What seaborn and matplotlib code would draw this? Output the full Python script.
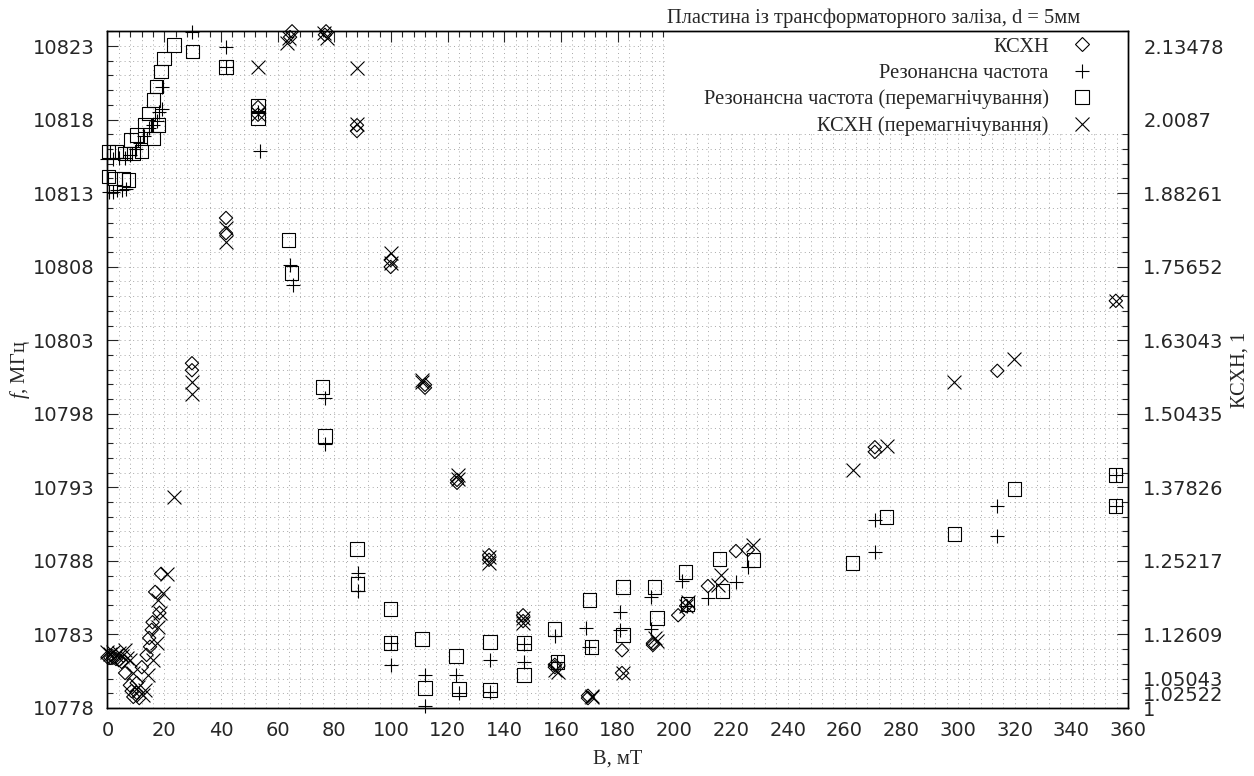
import seaborn as sns
import matplotlib.pyplot as plt
from matplotlib.lines import Line2D
from matplotlib.patches import Rectangle
from matplotlib.ticker import MultipleLocator

# КСХН (diamonds), right axis
ksxn_b = [0.0, 1.0, 2.0, 3.0, 4.0, 5.0, 6.2, 7.9, 8.5, 9.1, 10.3, 10.3, 11.2, 12.1, 13.8, 15.0,
          14.7, 15.6, 15.9, 18.3, 16.8, 18.9,
          29.8, 29.8, 41.8, 41.8, 53.1, 53.1, 65.1, 64.4, 77.1, 76.7, 88.0, 88.0, 99.9, 99.9,
          112.0, 112.0, 123.3, 123.3, 134.6, 134.6, 146.6, 146.6, 157.8, 157.8, 169.5, 169.5,
          181.5, 181.5, 192.4, 192.4, 201.3, 204.1, 211.8, 221.7, 225.9, 270.7, 270.7, 313.9, 355.7]
ksxn = [1.087, 1.086, 1.087, 1.084, 1.082, 1.079, 1.060, 1.039, 1.029, 1.019, 1.026, 1.043, 1.017,
        1.070, 1.091, 1.105, 1.120, 1.134, 1.147, 1.163, 1.199, 1.230,
        1.591, 1.579, 1.840, 1.814, 2.030, 2.017, 2.160, 2.150, 2.160, 2.154, 1.999, 1.989, 1.768,
        1.756, 1.554, 1.549, 1.391, 1.386, 1.262, 1.254, 1.159, 1.149, 1.074, 1.070, 1.021, 1.017,
        1.099, 1.060, 1.111, 1.108, 1.159, 1.175, 1.209, 1.269, 1.271, 1.447, 1.439, 1.578, 1.698]

# Резонансна частота (plus), left axis
freq_b = [0.5, 2.0, 3.5, 5.0, 6.5, 0.0, 2.0, 4.0, 6.0, 8.0, 10.0, 11.5, 13.0, 14.5, 16.0, 17.5,
          18.0, 19.1, 19.1,
          29.8, 41.8, 41.8, 53.1, 53.8, 64.4, 65.3, 76.9, 76.7, 88.3, 88.3, 99.9, 99.9, 112.0,
          112.0, 122.9, 124.0, 134.9, 134.9, 146.9, 146.9, 157.8, 158.7, 168.8, 170.0, 180.8,
          180.8, 191.9, 191.9, 202.5, 204.6, 211.8, 221.7, 225.9, 270.7, 270.7, 313.9, 313.9,
          355.7, 355.7]
freq = [10813.1, 10813.1, 10813.2, 10813.2, 10813.3, 10815.3, 10815.3, 10815.4, 10815.4, 10815.6,
        10816.0, 10816.4, 10816.9, 10817.4, 10817.6, 10817.9, 10818.5, 10818.7, 10820.2,
        10823.96, 10822.94, 10821.58, 10818.52, 10815.87, 10808.12, 10806.76, 10799.08, 10795.95,
        10787.18, 10785.95, 10782.42, 10780.92, 10780.24, 10778.14, 10780.24, 10779.02, 10781.26,
        10779.09, 10782.35, 10781.13, 10782.89, 10781.13, 10783.44, 10782.15, 10784.53, 10783.30,
        10785.55, 10783.37, 10786.63, 10784.93, 10785.48, 10786.57, 10787.59, 10790.78, 10788.60,
        10791.73, 10789.69, 10793.84, 10791.73]

# Резонансна частота (перемагнічування) (squares), left axis
freq_remag_b = [0.3, 2.6, 5.6, 7.3, 0.3, 3.2, 6.2, 9.1, 12.1, 8.3, 10.3, 13.0, 16.2, 17.9, 14.4,
                16.2, 17.4, 18.9, 19.9, 23.5, 29.9,
                41.8, 53.1, 53.1, 63.8, 64.9, 75.9, 76.7, 88.0, 88.3, 99.9, 99.9, 111.0, 112.0,
                122.9, 124.0, 134.9, 134.9, 146.9, 146.9, 157.8, 158.7, 170.0, 170.8, 181.9, 181.9,
                192.9, 193.9, 204.0, 204.6, 215.8, 217.0, 228.0, 262.9, 274.8, 298.7, 319.9,
                355.7, 355.7]
freq_remag = [10814.12, 10814.01, 10813.96, 10813.89, 10815.82, 10815.82, 10815.71, 10815.71,
              10815.82, 10816.61, 10816.95, 10817.63, 10816.73, 10817.63, 10818.43, 10819.33,
              10820.24, 10821.26, 10822.17, 10823.07, 10822.62,
              10821.58, 10818.92, 10818.10, 10809.82, 10807.57, 10799.82, 10796.49, 10788.81,
              10786.43, 10784.73, 10782.42, 10782.69, 10779.36, 10781.54, 10779.29, 10782.49,
              10779.22, 10782.42, 10780.24, 10783.37, 10781.13, 10785.34, 10782.15, 10786.23,
              10782.96, 10786.23, 10784.12, 10787.25, 10785.07, 10788.13, 10785.95, 10788.06,
              10787.86, 10790.98, 10789.83, 10792.89, 10793.84, 10791.73]

# КСХН (перемагнічування) (crosses), right axis
ksxn_remag_b = [0.0, 1.0, 2.0, 3.0, 4.0, 5.0, 6.0, 7.0, 8.0, 9.1, 10.9, 12.6, 13.2, 14.4, 16.2,
                17.4, 17.9, 18.5, 17.9, 19.7, 20.9,
                23.5, 29.8, 29.8, 41.8, 41.8, 53.1, 53.1, 64.0, 63.3, 76.4, 77.4, 88.0, 88.0,
                99.9, 99.9, 110.8, 110.8, 123.7, 123.7, 134.6, 134.6, 146.6, 146.6, 157.8, 159.0,
                170.8, 170.8, 181.8, 193.3, 194.0, 204.7, 204.1, 215.3, 216.4, 227.8, 263.0,
                275.0, 298.7, 319.9, 355.7]
ksxn_remag = [1.096, 1.093, 1.096, 1.091, 1.094, 1.089, 1.099, 1.086, 1.082, 1.060, 1.036, 1.022,
              1.031, 1.057, 1.082, 1.111, 1.139, 1.163, 1.185, 1.197, 1.230,
              1.362, 1.559, 1.538, 1.823, 1.799, 2.099, 2.019, 2.149, 2.140, 2.157, 2.149, 2.097,
              2.001, 1.780, 1.763, 1.562, 1.559, 1.399, 1.393, 1.259, 1.249, 1.154, 1.146, 1.065,
              1.062, 1.021, 1.019, 1.060, 1.120, 1.115, 1.182, 1.175, 1.211, 1.228, 1.279, 1.408,
              1.449, 1.559, 1.598, 1.698]

legend_labels = ["КСХН", "Резонансна частота", "Резонансна частота (перемагнічування)",
                 "КСХН (перемагнічування)"]

f_min, f_max = 10778, 10824
freq_ticks = [10778, 10783, 10788, 10793, 10798, 10803, 10808, 10813, 10818, 10823]
ksxn_per_mhz = 1.13478 / 45
ksxn_ticks = [1, 1.02522, 1.05043, 1.12609, 1.25217, 1.37826, 1.50435, 1.63043, 1.75652,
              1.88261, 2.0087, 2.13478]
ksxn_tick_labels = ["1", "1.02522", "1.05043", "1.12609", "1.25217", "1.37826", "1.50435",
                    "1.63043", "1.75652", "1.88261", "2.0087", "2.13478"]

sns.set_style("white")
plt.rcParams['font.family'] = ['DejaVu Sans']
plt.rcParams['mathtext.fontset'] = 'custom'
plt.rcParams['mathtext.it'] = 'Liberation Serif:italic'
plt.rcParams['mathtext.rm'] = 'Liberation Serif'
serif = 'Liberation Serif'
serif_size = 14.8

fig = plt.figure(figsize=(12.54, 7.76), dpi=100)
rect = [107.5 / 1254, 68 / 776, 1020.5 / 1254, 676.7 / 776]

# grid lives on its own axes so the legend box can hide it without hiding the ticks
ax_bg = fig.add_axes(rect)
ax = fig.add_axes(rect)
ax.set_facecolor('none')
ax2 = ax.twinx()

for a in (ax_bg, ax):
    a.set_xlim(0, 360)
    a.set_ylim(f_min, f_max)
    a.xaxis.set_major_locator(MultipleLocator(20))
    a.xaxis.set_minor_locator(MultipleLocator(4))
    a.set_yticks(freq_ticks)
    a.yaxis.set_minor_locator(MultipleLocator(1))

ax_bg.grid(which='both', color='#a8a8a8', linewidth=0.7, linestyle=(0, (1, 3.4)))
ax_bg.tick_params(which='both', length=0, labelleft=False, labelbottom=False)
for s in ax_bg.spines.values():
    s.set_visible(False)

ax.add_patch(Rectangle((0.546, 0.848), 0.454, 0.152, transform=ax.transAxes,
                       facecolor='white', edgecolor='none', zorder=1))

mk = dict(clip_on=False, linewidth=0.8, zorder=3, legend=False)
sns.scatterplot(x=freq_b, y=freq, marker='+', s=100, color='black', ax=ax, **mk)
sns.scatterplot(x=freq_remag_b, y=freq_remag, marker='s', s=92, facecolor='none',
                edgecolor='black', ax=ax, **mk)
sns.scatterplot(x=ksxn_b, y=ksxn, marker='D', s=46, facecolor='none',
                edgecolor='black', ax=ax2, **mk)
sns.scatterplot(x=ksxn_remag_b, y=ksxn_remag, marker='x', s=100, color='black', ax=ax2, **mk)

ax2.set_ylim(1, 1 + (f_max - f_min) * ksxn_per_mhz)
ax2.set_yticks(ksxn_ticks)
ax2.set_yticklabels(ksxn_tick_labels)
ax2.tick_params(axis='y', length=0, pad=11, labelsize=14)

ax.tick_params(which='both', direction='in', top=True, right=True, width=0.8, labelsize=14)
ax.tick_params(which='major', length=8)
ax.tick_params(which='minor', length=4.5)
ax.tick_params(axis='y', pad=9)
ax.tick_params(axis='x', pad=9)
for a in (ax, ax2):
    for s in a.spines.values():
        s.set_linewidth(1.0)
        s.set_color('black')

ax.set_xlabel("B, мТ", fontfamily=serif, fontsize=serif_size)
ax.xaxis.set_label_coords(0.5, -0.062)
ax.set_ylabel("$f$, МГц", fontfamily=serif, fontsize=serif_size)
ax.yaxis.set_label_coords(-0.074, 0.5)
ax2.set_ylabel("КСХН, 1", fontfamily=serif, fontsize=serif_size)
ax2.yaxis.set_label_coords(1.100, 0.5)

fig.text(1080 / 1254, 1 - 18 / 776, "Пластина із трансформаторного заліза, d = 5мм",
         ha='right', va='center', fontfamily=serif, fontsize=serif_size)

handles = [
    Line2D([], [], linestyle='none', marker='D', markersize=6.8, markerfacecolor='none',
           markeredgecolor='black', markeredgewidth=0.8),
    Line2D([], [], linestyle='none', marker='+', markersize=10, color='black',
           markeredgewidth=0.8),
    Line2D([], [], linestyle='none', marker='s', markersize=9.6, markerfacecolor='none',
           markeredgecolor='black', markeredgewidth=0.8),
    Line2D([], [], linestyle='none', marker='x', markersize=10, color='black',
           markeredgewidth=0.8),
]
ax2.legend(handles, legend_labels, loc='upper right',
           bbox_to_anchor=(1 - 36 / 1020.5, 1 - 6 / 676.7), frameon=False, markerfirst=False,
           prop={'family': serif, 'size': serif_size}, handlelength=1.0, handletextpad=1.1,
           labelspacing=0.33, borderpad=0, borderaxespad=0)

fig.savefig("out.png", dpi=100)
